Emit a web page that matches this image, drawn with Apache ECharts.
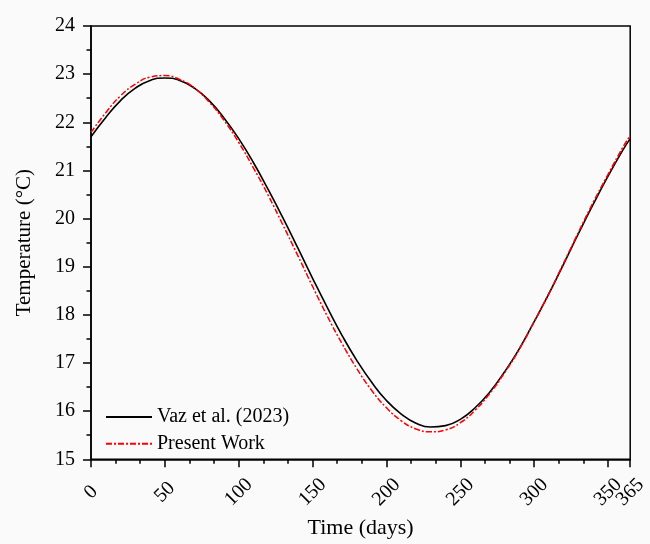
<!DOCTYPE html>
<html>
<head>
<meta charset="utf-8">
<script src="https://cdn.jsdelivr.net/npm/echarts@6/dist/echarts.min.js"></script>
<style>
html,body{margin:0;padding:0;background:#fafafa;}
#chart{width:650px;height:544px;}
</style>
</head>
<body>
<div id="chart"></div>
<script>
// ---- data ----
const days = [0,10,20,30,40,50,60,70,80,90,100,110,120,130,140,150,160,170,180,190,200,210,220,230,240,250,260,270,280,290,300,310,320,330,340,350,360,365];
const vazValues = [21.70,22.10,22.45,22.71,22.87,22.92,22.87,22.71,22.45,22.09,21.66,21.16,20.60,20.01,19.39,18.76,18.15,17.57,17.05,16.60,16.22,15.94,15.75,15.67,15.70,15.83,16.07,16.40,16.82,17.30,17.86,18.44,19.06,19.69,20.30,20.88,21.42,21.66];
const presentValues = [21.79,22.20,22.55,22.79,22.94,22.97,22.89,22.71,22.42,22.04,21.58,21.05,20.48,19.86,19.23,18.59,17.97,17.40,16.88,16.43,16.07,15.80,15.63,15.57,15.61,15.76,16.02,16.37,16.80,17.29,17.86,18.45,19.08,19.72,20.34,20.92,21.48,21.72];
const xMajorTicks = [0,50,100,150,200,250,300,350];
const xEndTick = [365];
const xMinorTicks = [16.67,33.33,66.67,83.33,116.67,133.33,166.67,183.33,216.67,233.33,266.67,283.33,316.67,333.33];
const seriesNames = ['Vaz et al. (2023)','Present Work'];

const FONT = '"Liberation Serif","Times New Roman",serif';
const chart = echarts.init(document.getElementById('chart'), null, {renderer:'canvas'});
const toPairs = vals => days.map((d,i)=>[d, vals[i]]);
const labelStyle = {show:true,rotate:45,align:'center',verticalAlign:'middle',margin:33,
  showMinLabel:true,showMaxLabel:true,hideOverlap:false,interval:0,
  fontFamily:FONT,fontSize:20,color:'#000'};

chart.setOption({
  backgroundColor:'#fafafa',
  animation:false,
  grid:{left:91,right:19,top:26,bottom:83,show:true,borderColor:'#000',borderWidth:1.5,backgroundColor:'transparent'},
  legend:{
    orient:'vertical', left:100, top:402,
    itemWidth:46, itemHeight:20, itemGap:6.7,
    itemStyle:{opacity:0},
    textStyle:{fontFamily:FONT,fontSize:20,color:'#000'},
    data:seriesNames
  },
  xAxis:[{
    type:'value', min:0, max:365,
    name:'Time (days)', nameLocation:'middle', nameGap:57,
    nameTextStyle:{fontFamily:FONT,fontSize:22,color:'#000'},
    axisLine:{show:true,lineStyle:{color:'#000',width:1.5}},
    axisTick:{show:true,inside:false,length:8,lineStyle:{color:'#000',width:1.5},customValues:xMajorTicks},
    axisLabel:Object.assign({customValues:xMajorTicks},labelStyle),
    splitLine:{show:false}
  },{
    type:'value', min:0, max:365, position:'bottom',
    axisLine:{show:false},
    axisTick:{show:true,inside:false,length:4.5,lineStyle:{color:'#000',width:1.5},customValues:xMinorTicks},
    axisLabel:{show:false},
    splitLine:{show:false}
  },{
    type:'value', min:0, max:365, position:'bottom',
    axisLine:{show:false},
    axisTick:{show:true,inside:false,length:8,lineStyle:{color:'#000',width:1.5},customValues:xEndTick},
    axisLabel:Object.assign({},labelStyle,{customValues:xEndTick}),
    splitLine:{show:false}
  }],
  yAxis:{
    type:'value', min:15, max:24, interval:1,
    name:'Temperature (°C)', nameLocation:'middle', nameGap:56,
    nameTextStyle:{fontFamily:FONT,fontSize:21,color:'#000'},
    axisLine:{show:true,lineStyle:{color:'#000',width:1.5}},
    axisTick:{show:true,inside:false,length:8,lineStyle:{color:'#000',width:1.5}},
    minorTick:{show:true,splitNumber:2,length:4.5,lineStyle:{color:'#000',width:1.5}},
    axisLabel:{fontFamily:FONT,fontSize:20,color:'#000',margin:16},
    splitLine:{show:false}
  },
  series:[{
    name:seriesNames[0], type:'line', smooth:true, symbol:'none', showSymbol:false,
    xAxisIndex:0,
    lineStyle:{color:'#000',width:1.6,type:'solid'},
    itemStyle:{color:'#000'},
    data:toPairs(vazValues), z:2
  },{
    name:seriesNames[1], type:'line', smooth:true, symbol:'none', showSymbol:false,
    xAxisIndex:0,
    lineStyle:{color:'#ff0000',width:1.5,type:[6,2,2,2]},
    itemStyle:{color:'#ff0000'},
    data:toPairs(presentValues), z:3
  }]
});
</script>
</body>
</html>
